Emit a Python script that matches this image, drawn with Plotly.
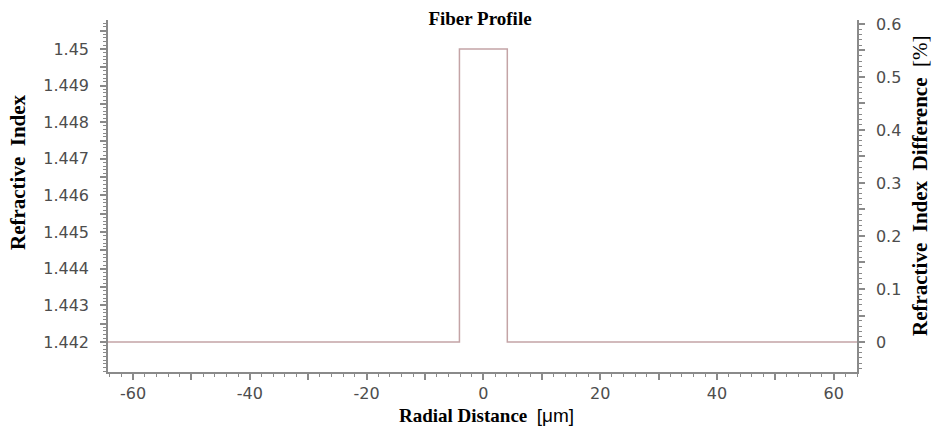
import plotly.graph_objects as go

# Data
radius_um = [-64.3, -4.1, 4.1, 64.0]           # step edges of the profile (μm)
refr_index = [1.442, 1.450, 1.442, 1.442]      # refractive index after each edge (hv steps)
index_diff_pct = [0.0, 0.55, 0.0, 0.0]         # refractive index difference [%]

x_major = [-60, -50, -40, -30, -20, -10, 0, 10, 20, 30, 40, 50, 60]
x_labels = ["-60", "", "-40", "", "-20", "", "0", "", "20", "", "40", "", "60"]
y_major = [1.442, 1.4425, 1.443, 1.4435, 1.444, 1.4445, 1.445, 1.4455, 1.446,
           1.4465, 1.447, 1.4475, 1.448, 1.4485, 1.449, 1.4495, 1.45, 1.4505]
y_labels = ["1.442", "", "1.443", "", "1.444", "", "1.445", "", "1.446",
            "", "1.447", "", "1.448", "", "1.449", "", "1.45", ""]
y2_major = [0, 0.05, 0.1, 0.15, 0.2, 0.25, 0.3, 0.35, 0.4, 0.45, 0.5, 0.55, 0.6]
y2_labels = ["0", "", "0.1", "", "0.2", "", "0.3", "", "0.4", "", "0.5", "", "0.6"]

axis_col = "#8a8a8a"
tick_font = dict(family="DejaVu Sans, Arial, sans-serif", size=16, color="#4d4d4d")
serif = "Liberation Serif, Times New Roman, serif"

fig = go.Figure()
fig.add_trace(go.Scatter(
    x=radius_um, y=refr_index, mode="lines", line_shape="hv",
    line=dict(color="#c4a4a6", width=1.5), showlegend=False, hoverinfo="skip"))
fig.add_trace(go.Scatter(
    x=radius_um, y=index_diff_pct, mode="lines", line_shape="hv", yaxis="y2",
    line=dict(color="rgba(0,0,0,0)", width=0), showlegend=False, hoverinfo="skip"))

fig.update_layout(
    width=934, height=428,
    margin=dict(l=108, r=77, t=20, b=56, autoexpand=False),
    paper_bgcolor="white", plot_bgcolor="white",
    title=dict(text="<b>Fiber Profile</b>", x=480 / 934, xanchor="center", y=1 - 18 / 428, yanchor="middle",
               font=dict(family=serif, size=19, color="#000")),
    xaxis=dict(
        range=[-64.3, 64.0], showgrid=False, zeroline=False, automargin=False,
        showline=True, linecolor=axis_col, linewidth=1.5,
        tickmode="array", tickvals=x_major, ticktext=x_labels,
        ticks="outside", ticklen=6, tickwidth=1.5, tickcolor=axis_col,
        tickfont=tick_font, ticklabelstandoff=0,
        minor=dict(dtick=2, tick0=0, ticks="outside", ticklen=3, tickcolor=axis_col, tickwidth=1),
    ),
    yaxis=dict(
        range=[1.44118, 1.45079], showgrid=False, zeroline=False, automargin=False,
        showline=True, linecolor=axis_col, linewidth=1.5,
        tickmode="array", tickvals=y_major, ticktext=y_labels,
        ticks="outside", ticklen=6, tickwidth=1.5, tickcolor=axis_col,
        tickfont=tick_font, ticklabelstandoff=8,
        minor=dict(dtick=0.0001, tick0=1.442, ticks="outside", ticklen=3, tickcolor=axis_col, tickwidth=1),
    ),
    yaxis2=dict(
        overlaying="y", side="right", anchor="x", automargin=False,
        range=[-0.0566, 0.6075], showgrid=False, zeroline=False,
        showline=True, linecolor=axis_col, linewidth=1.5,
        tickmode="array", tickvals=y2_major, ticktext=y2_labels,
        ticks="outside", ticklen=6, tickwidth=1.5, tickcolor=axis_col,
        tickfont=tick_font, ticklabelstandoff=8,
        minor=dict(dtick=0.01, tick0=0, ticks="outside", ticklen=3, tickcolor=axis_col, tickwidth=1),
    ),
    annotations=[
        dict(text="<b>Radial Distance</b>  <span style=\"font-family:Liberation Sans, Arial, sans-serif\">[μm]</span>",
             showarrow=False, xref="paper", yref="paper",
             x=(487 - 108) / 749, y=-(415 - 372) / 352, xanchor="center", yanchor="middle",
             font=dict(family=serif, size=19, color="#000")),
        dict(text="<b>Refractive  Index</b>", textangle=-90, showarrow=False,
             xref="paper", yref="paper", x=-90 / 749, y=(372 - 172) / 352,
             xanchor="center", yanchor="middle",
             font=dict(family=serif, size=21, color="#000")),
        dict(text="<b>Refractive  Index  Difference</b>  [%]", textangle=-90, showarrow=False,
             xref="paper", yref="paper", x=1 + (920 - 857) / 749, y=(372 - 185) / 352,
             xanchor="center", yanchor="middle",
             font=dict(family=serif, size=21, color="#000")),
    ],
)

fig.write_html("out.html")
